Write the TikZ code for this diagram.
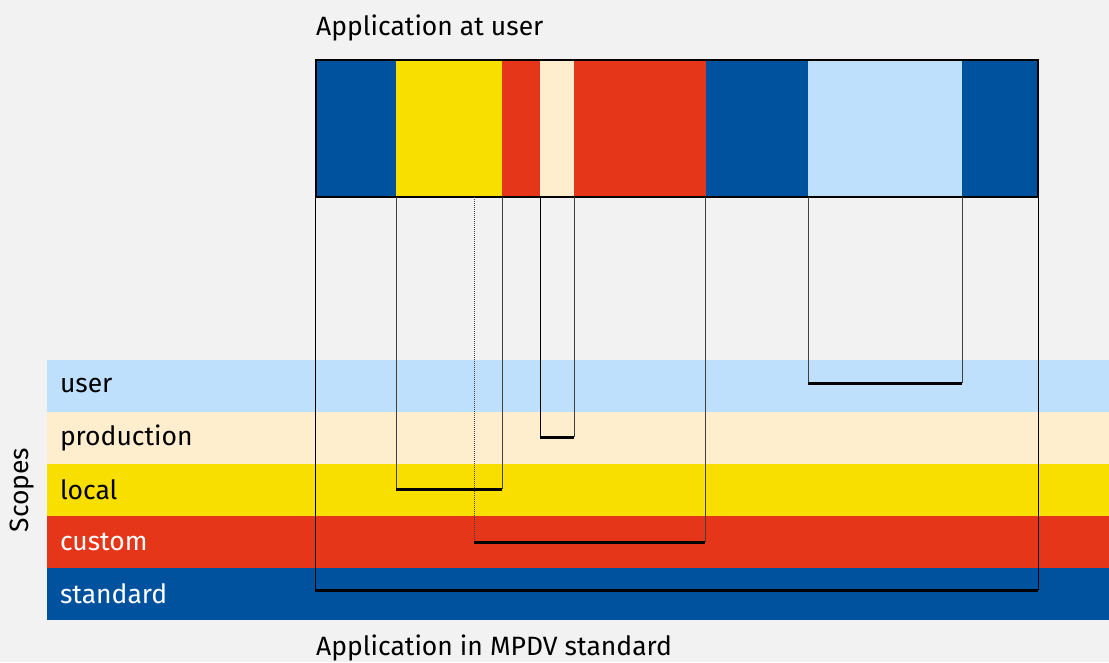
\documentclass[tikz,border=0pt]{standalone}
\usepackage{fontspec}
\setmainfont{Fira Sans}
\usetikzlibrary{positioning}
\definecolor{mpdvblue}{RGB}{0,82,159}
\definecolor{mpdvyellow}{RGB}{249,223,0}
\definecolor{mpdvred}{RGB}{229,54,26}
\definecolor{mpdvcream}{RGB}{255,238,206}
\definecolor{mpdvsky}{RGB}{190,224,253}
\definecolor{mpdvback}{RGB}{242,242,242}
\tikzstyle{seg} = [rectangle, inner sep=0pt, outer sep=0pt, minimum height=137pt, anchor=north west]
\tikzstyle{band} = [rectangle, inner xsep=13pt, inner ysep=0pt, outer sep=0pt, minimum height=52pt, text width=1036pt, align=left, anchor=west]
\tikzstyle{link} = [line width=1pt, black!75]
\tikzstyle{base} = [line width=3pt, black]
\tikzstyle{caption} = [anchor=west, inner sep=0pt]

\begin{document}
\begin{tikzpicture}[x=1pt, y=-1pt, font=\fontsize{26.5}{30}\selectfont]

\fill[mpdvback] (0,0) rectangle (1109,662);
\useasboundingbox (0,0) rectangle (1109,662);

% scope bands
\node [band, fill=mpdvsky] (user) at (47,386) {user};
\node [band, fill=mpdvcream, below=0pt of user.south west, anchor=north west] (production) {production};
\node [band, fill=mpdvyellow, below=0pt of production.south west, anchor=north west] (local) {local};
\node [band, fill=mpdvred, text=white, below=0pt of local.south west, anchor=north west] (custom) {custom};
\node [band, fill=mpdvblue, text=white, below=0pt of custom.south west, anchor=north west] (standard) {standard};

\node [rotate=90] (scopes) at (22,490) {Scopes};

% application bar
\node [seg, fill=mpdvblue, minimum width=80pt] (s1) at (316,60) {};
\node [seg, fill=mpdvyellow, minimum width=106pt, right=0pt of s1] (s2) {};
\node [seg, fill=mpdvred, minimum width=38pt, right=0pt of s2] (s3) {};
\node [seg, fill=mpdvcream, minimum width=34pt, right=0pt of s3] (s4) {};
\node [seg, fill=mpdvred, minimum width=132pt, right=0pt of s4] (s5) {};
\node [seg, fill=mpdvblue, minimum width=102pt, right=0pt of s5] (s6) {};
\node [seg, fill=mpdvsky, minimum width=154pt, right=0pt of s6] (s7) {};
\node [seg, fill=mpdvblue, minimum width=76pt, right=0pt of s7] (s8) {};
\draw [line width=2pt] (s1.north west) rectangle (s8.south east);

\node [caption] (top) at (316,28) {Application at user};
\node [caption] (bottom) at (316,648) {Application in MPDV standard};

% bracket ends
\coordinate (stdL) at (315,590);
\coordinate (stdR) at (1038,590);
\coordinate (cusL) at (474,542);
\coordinate (cusR) at (705,542);
\coordinate (locL) at (396,489);
\coordinate (locR) at (502,489);
\coordinate (proL) at (540,437);
\coordinate (proR) at (574,437);
\coordinate (usrL) at (808,383);
\coordinate (usrR) at (962,383);

\draw [link, black] (stdL |- s1.south) -- (stdL);
\draw [link, black] (stdR |- s8.south) -- (stdR);
\draw [base] (stdL) -- (stdR);

\draw [link, densely dotted] (cusL |- s2.south) -- (cusL);
\draw [link] (cusR |- s5.south) -- (cusR);
\draw [base] (cusL) -- (cusR);

\draw [link] (locL |- s2.south) -- (locL);
\draw [link] (locR |- s2.south) -- (locR);
\draw [base] (locL) -- (locR);

\draw [link, black] (proL |- s4.south) -- (proL);
\draw [link] (proR |- s4.south) -- (proR);
\draw [base] (proL) -- (proR);

\draw [link] (usrL |- s7.south) -- (usrL);
\draw [link] (usrR |- s7.south) -- (usrR);
\draw [base] (usrL) -- (usrR);

\end{tikzpicture}
\end{document}
